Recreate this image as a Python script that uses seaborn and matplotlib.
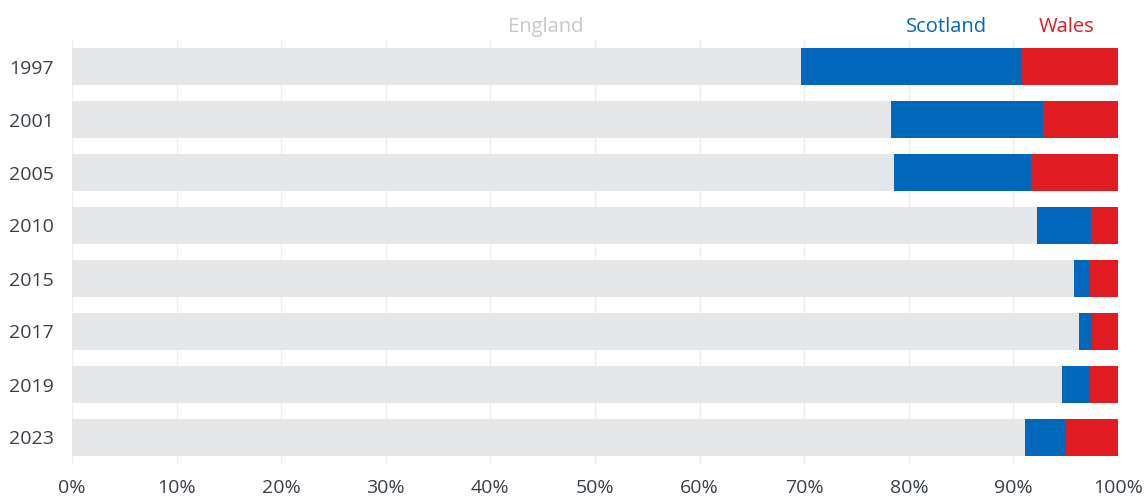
import pandas as pd
import numpy as np
import matplotlib.pyplot as plt
import seaborn as sns

# share of seats (%) by nation, per election
years = ['1997', '2001', '2005', '2010', '2015', '2017', '2019', '2023']
england = [69.7, 78.3, 78.6, 92.3, 95.8, 96.3, 94.6, 91.1]
scotland = [21.0, 14.5, 13.1, 5.1, 1.4, 1.2, 2.7, 3.8]
wales = [9.3, 7.2, 8.3, 2.6, 2.8, 2.5, 2.7, 5.1]

colors = {'England': '#e6e7e8', 'Scotland': '#0067bb', 'Wales': '#e11b22'}

df = pd.DataFrame({'year': years, 'England': england, 'Scotland': scotland, 'Wales': wales})
df['cum_eng'] = df['England']
df['cum_sco'] = df['England'] + df['Scotland']
df['cum_wal'] = df['cum_sco'] + df['Wales']

sns.set_style('white')
plt.rcParams['font.family'] = ['Open Sans', 'DejaVu Sans']

fig = plt.figure(figsize=(11.46, 5), dpi=100)
ax = fig.add_axes([0.0628, 0.072, 0.9128, 0.848])

# stacked bars: draw cumulative totals back to front
for col, name in [('cum_wal', 'Wales'), ('cum_sco', 'Scotland'), ('cum_eng', 'England')]:
    sns.barplot(data=df, x=col, y='year', orient='h', color=colors[name],
                width=0.68, saturation=1, ax=ax, zorder=2, linewidth=0)

ax.set_xlim(0, 100)
ax.set_ylim(7.5, -0.5)
ax.set_xticks(np.arange(0, 101, 10))
ax.set_xticklabels([f'{t}%' for t in range(0, 101, 10)])
ax.grid(axis='x', color='#efefef', linewidth=1, zorder=0)
ax.set_axisbelow(True)
for s in ax.spines.values():
    s.set_visible(False)
ax.tick_params(axis='x', length=0, pad=11, labelsize=14, labelcolor='#3a3f47')
ax.tick_params(axis='y', length=0, pad=13, labelsize=14, labelcolor='#3a3f47')
ax.set_xlabel('')
ax.set_ylabel('')

# series labels above the bars
lbl_y = 1.006
ax.text(0.453, lbl_y, 'England', transform=ax.transAxes, ha='center', va='bottom',
        fontsize=14.5, color='#c6c8ca')
ax.text(0.836, lbl_y, 'Scotland', transform=ax.transAxes, ha='center', va='bottom',
        fontsize=14.5, color=colors['Scotland'])
ax.text(0.951, lbl_y, 'Wales', transform=ax.transAxes, ha='center', va='bottom',
        fontsize=14.5, color=colors['Wales'])

fig.savefig('out.png', dpi=100)
